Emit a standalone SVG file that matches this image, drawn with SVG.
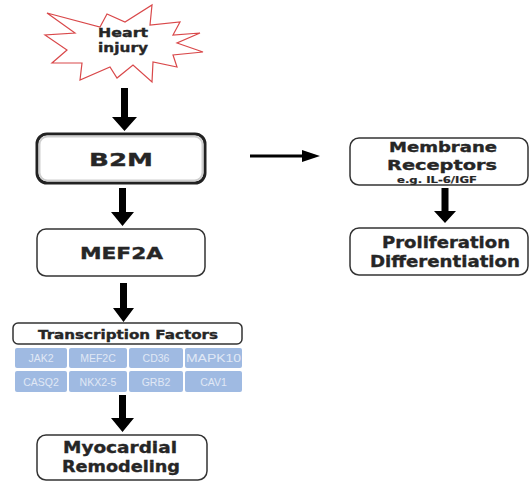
<svg xmlns="http://www.w3.org/2000/svg" width="530" height="482" viewBox="0 0 530 482">
<defs>
<style>
.box{fill:#fff;stroke:#333;stroke-width:1.5}
.t{font-family:"DejaVu Sans","Liberation Sans",Arial,sans-serif;font-weight:bold;fill:#262626;stroke:#262626;stroke-width:0.35;text-anchor:middle}
.cell{fill:#9fbae2}
.ct{font-family:"Liberation Sans",Arial,sans-serif;font-size:10.5px;fill:#e0e8f5;text-anchor:middle}
.arr{fill:#000}
</style>
</defs>
<rect width="530" height="482" fill="#fff"/>
<g id="heart-injury">
<polygon points="47,13 100,27 107,14 125,22 152,5 150,25 180,22 173,35 200,33 177,43 203,52 173,55 177,67 153,62 152,82 133,65 117,78 110,67 80,80 82,63 52,63 67,50 45,35 75,33" fill="#fff" stroke="#d9484a" stroke-width="1.2"/>
<text class="t" x="123" y="37" font-size="12.5" textLength="50" lengthAdjust="spacingAndGlyphs">Heart</text>
<text class="t" x="123" y="52" font-size="12.5" textLength="50" lengthAdjust="spacingAndGlyphs">injury</text>
</g>
<g id="b2m">
<rect x="37" y="134" width="168" height="49" rx="10" fill="#fff" stroke="#222" stroke-width="3"/>
<rect x="39.5" y="136.5" width="163" height="44" rx="8" fill="none" stroke="#cfcfcf" stroke-width="2"/>
<text class="t" x="121" y="165.5" font-size="18.5" textLength="64" lengthAdjust="spacingAndGlyphs">B2M</text>
</g>
<g id="mef2a">
<rect class="box" x="37" y="229" width="168" height="47" rx="9"/>
<text class="t" x="121.5" y="259" font-size="16" textLength="83" lengthAdjust="spacingAndGlyphs">MEF2A</text>
</g>
<g id="transcription-factors">
<rect class="box" x="13" y="323" width="229" height="21" rx="5"/>
<text class="t" x="128" y="339" font-size="11.5" textLength="180" lengthAdjust="spacingAndGlyphs">Transcription Factors</text>
<rect class="cell" x="15" y="348" width="52" height="20" rx="2"/>
<rect class="cell" x="69" y="348" width="58" height="20" rx="2"/>
<rect class="cell" x="129" y="348" width="54" height="20" rx="2"/>
<rect class="cell" x="185" y="348" width="57" height="20" rx="2"/>
<rect class="cell" x="15" y="371" width="52" height="21" rx="2"/>
<rect class="cell" x="69" y="371" width="58" height="21" rx="2"/>
<rect class="cell" x="129" y="371" width="54" height="21" rx="2"/>
<rect class="cell" x="185" y="371" width="57" height="21" rx="2"/>
<text class="ct" x="41" y="362">JAK2</text>
<text class="ct" x="98" y="362">MEF2C</text>
<text class="ct" x="156" y="362">CD36</text>
<text class="ct" x="213.5" y="362" textLength="55" lengthAdjust="spacingAndGlyphs">MAPK10</text>
<text class="ct" x="41" y="385.5">CASQ2</text>
<text class="ct" x="98" y="385.5">NKX2-5</text>
<text class="ct" x="156" y="385.5">GRB2</text>
<text class="ct" x="213.5" y="385.5">CAV1</text>
</g>
<g id="myocardial-remodeling">
<rect class="box" x="37" y="435" width="170" height="45" rx="9"/>
<text class="t" x="120" y="453" font-size="15" textLength="114" lengthAdjust="spacingAndGlyphs">Myocardial</text>
<text class="t" x="121" y="472" font-size="15" textLength="118" lengthAdjust="spacingAndGlyphs">Remodeling</text>
</g>
<g id="membrane-receptors">
<rect class="box" x="350" y="138" width="178" height="47" rx="9"/>
<text class="t" x="443" y="152" font-size="14" textLength="108" lengthAdjust="spacingAndGlyphs">Membrane</text>
<text class="t" x="442" y="170" font-size="14" textLength="110" lengthAdjust="spacingAndGlyphs">Receptors</text>
<text class="t" x="437" y="183" font-size="9" textLength="80" lengthAdjust="spacingAndGlyphs" style="stroke-width:0.2">e.g. IL-6/IGF</text>
</g>
<g id="proliferation-differentiation">
<rect class="box" x="350" y="228" width="178" height="47" rx="9"/>
<text class="t" x="446" y="248" font-size="15" textLength="128" lengthAdjust="spacingAndGlyphs">Proliferation</text>
<text class="t" x="445" y="267" font-size="15" textLength="150" lengthAdjust="spacingAndGlyphs">Differentiation</text>
</g>
<g id="connectors">
<polygon class="arr" points="121,88 128,88 128,117 137,117 124.5,131 112,117 121,117"/>
<polygon class="arr" points="119,188 126,188 126,212 134,212 122.5,226 111,212 119,212"/>
<polygon class="arr" points="120,283 127,283 127,308 134,308 123.5,322 113,308 120,308"/>
<polygon class="arr" points="119,395 126,395 126,418 134,418 122.5,432 111,418 119,418"/>
<polygon class="arr" points="250,154.5 302,154.5 302,150 320,156 302,162 302,157.5 250,157.5"/>
<polygon class="arr" points="441.5,188 448.5,188 448.5,211 456,211 445,223 434,211 441.5,211"/>
</g>
</svg>
